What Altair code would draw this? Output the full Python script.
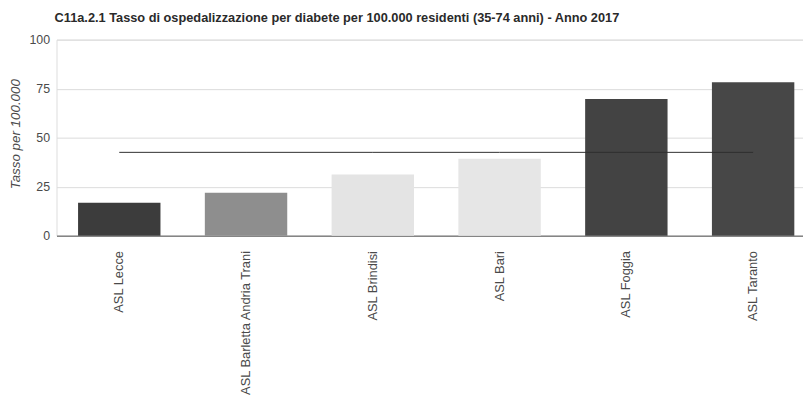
import altair as alt
import pandas as pd

asl = ["ASL Lecce", "ASL Barletta Andria Trani", "ASL Brindisi", "ASL Bari", "ASL Foggia", "ASL Taranto"]
tasso = [16.8, 21.9, 31.2, 39.2, 69.7, 78.3]
colori = ["#3c3c3c", "#8e8e8e", "#e4e4e4", "#e6e6e6", "#434343", "#474747"]
media_regionale = 42.5

df = pd.DataFrame({"asl": asl, "tasso": tasso, "colore": colori, "media": [media_regionale] * len(asl)})

FONT = "Liberation Sans"
x_enc = alt.X("asl:N", sort=asl, title=None,
              scale=alt.Scale(paddingInner=0.35, paddingOuter=0.17),
              axis=alt.Axis(labelAngle=-90, labelFontSize=13, labelColor="#4a4a4a", labelFont=FONT,
                            ticks=False, domain=True, domainColor="#555555", labelPadding=15,
                            labelLimit=400))

bars = alt.Chart(df).mark_bar().encode(
    x=x_enc,
    y=alt.Y("tasso:Q", title="Tasso per 100.000",
            scale=alt.Scale(domain=[0, 100]),
            axis=alt.Axis(values=[0, 25, 50, 75, 100], labelFontSize=12.5, labelColor="#4a4a4a",
                          labelFont=FONT, ticks=False, domain=False, labelPadding=7,
                          gridColor="#dcdcdc", titleFontStyle="italic", titleFontWeight="normal",
                          titleFontSize=13.5, titleFont=FONT, titleColor="#4a4a4a",
                          titleX=-34, titleY=95)),
    color=alt.Color("colore:N", scale=None),
)

line = alt.Chart(df).mark_line(color="#2e2e2e", strokeWidth=1).encode(
    x=alt.X("asl:N", sort=asl),
    y=alt.Y("media:Q"),
)

chart = alt.layer(bars, line).properties(
    width=767, height=198,
    title=alt.TitleParams(
        "C11a.2.1 Tasso di ospedalizzazione per diabete per 100.000 residenti (35-74 anni) - Anno 2017",
        anchor="start", frame="group", font=FONT, fontSize=12.9, fontWeight="bold", color="#2a2a2a",
        dx=-2, offset=9),
    autosize=alt.AutoSizeParams(type="none"),
    padding={"left": 49, "top": 30, "right": -13, "bottom": 160},
).configure_view(stroke=None).configure(background="white")

chart.save("out.html", embed_options={"renderer": "svg", "actions": False})
